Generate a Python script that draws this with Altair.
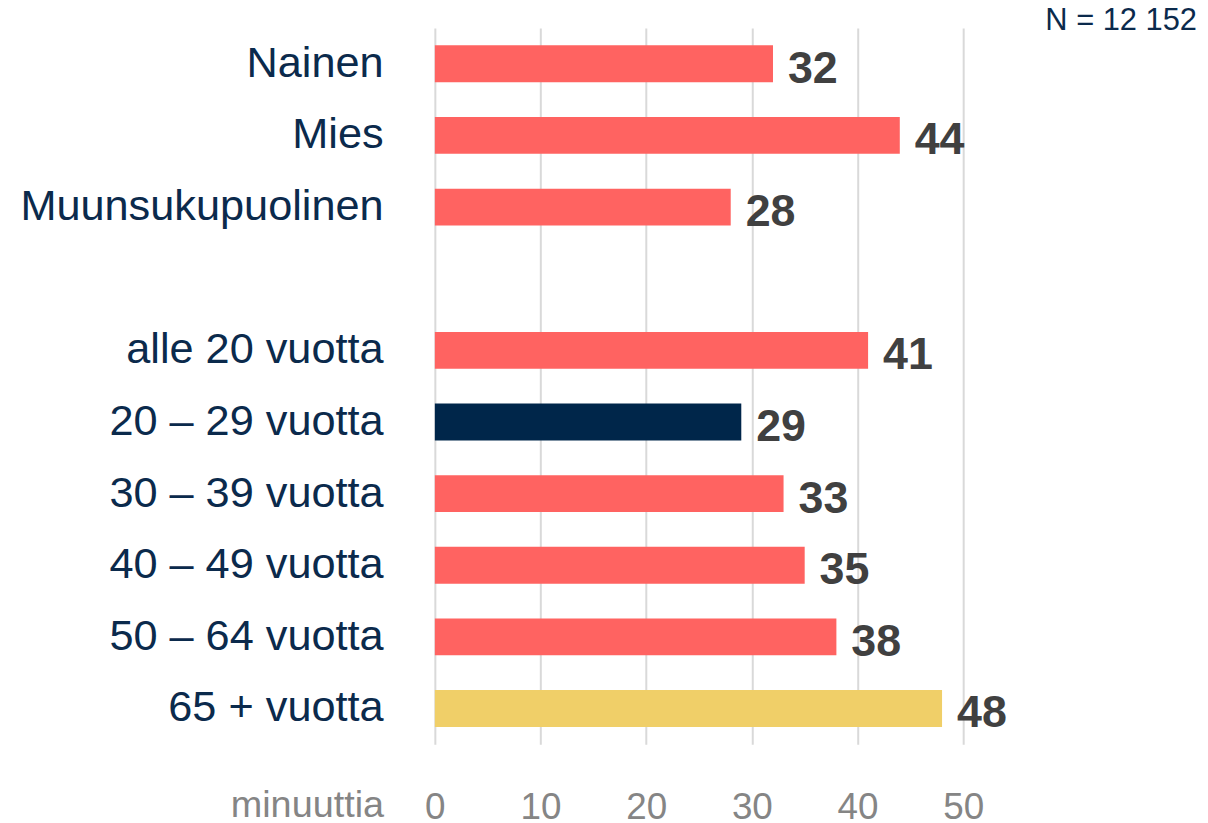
import altair as alt
import pandas as pd

categories = ["Nainen", "Mies", "Muunsukupuolinen", " ", "alle 20 vuotta",
              "20 – 29 vuotta", "30 – 39 vuotta", "40 – 49 vuotta",
              "50 – 64 vuotta", "65 + vuotta"]
bar_categories = ["Nainen", "Mies", "Muunsukupuolinen", "alle 20 vuotta",
                  "20 – 29 vuotta", "30 – 39 vuotta", "40 – 49 vuotta",
                  "50 – 64 vuotta", "65 + vuotta"]
values = [32, 44, 28, 41, 29, 33, 35, 38, 48]
groups = ["base", "base", "base", "base", "dark", "base", "base", "base", "yellow"]
x_ticks = [0, 10, 20, 30, 40, 50]

df = pd.DataFrame({"cat": bar_categories, "value": values, "group": groups})

W, H = 531, 720
FONT = "Liberation Sans"

y_enc = alt.Y("cat:N", sort=categories,
              scale=alt.Scale(domain=categories, paddingInner=0.486, paddingOuter=0.243),
              axis=alt.Axis(title=None, domain=False, ticks=False, tickSize=0,
                            labelPadding=52, labelFontSize=43.5, labelFont=FONT,
                            labelColor="#0b2a4c", labelLimit=500, grid=False))
x_enc = alt.X("value:Q", scale=alt.Scale(domain=[0, 50], nice=False),
              axis=alt.Axis(title=None, values=x_ticks, domain=False, ticks=False, tickSize=0,
                            labelPadding=46, labelFontSize=37, labelFont=FONT,
                            labelFlush=False, labelOverlap=False,
                            labelColor="#858585", grid=True, gridColor="#d9d9d9",
                            gridWidth=2))

bars = alt.Chart(df).mark_bar().encode(
    x=x_enc, y=y_enc,
    color=alt.Color("group:N", legend=None,
                    scale=alt.Scale(domain=["base", "dark", "yellow"],
                                    range=["#ff6361", "#00264a", "#f0cf68"])))

labels = alt.Chart(df).mark_text(align="left", baseline="middle", dx=15, dy=5,
                                 font=FONT, fontSize=45, fontWeight="bold",
                                 color="#404040").encode(
    x="value:Q", y=alt.Y("cat:N", sort=categories), text="value:Q")

unit = alt.Chart(pd.DataFrame({"t": ["minuuttia"]})).mark_text(
    align="right", baseline="middle", font=FONT, fontSize=38, color="#858585").encode(
    x=alt.value(-51), y=alt.value(H + 62), text="t:N")

ntext = alt.Chart(pd.DataFrame({"t": ["N = 12 152"]})).mark_text(
    align="right", baseline="middle", font=FONT, fontSize=31, color="#0b2a4c").encode(
    x=alt.value(766), y=alt.value(-7), text="t:N")

chart = alt.layer(bars, labels, unit, ntext).properties(
    width=W, height=H,
    autosize=alt.AutoSizeParams(type="none"),
    padding={"left": 429, "top": 18, "right": 238, "bottom": 76},
).configure_view(stroke=None)

chart.save("out.html", embed_options={"renderer": "svg", "actions": False})
